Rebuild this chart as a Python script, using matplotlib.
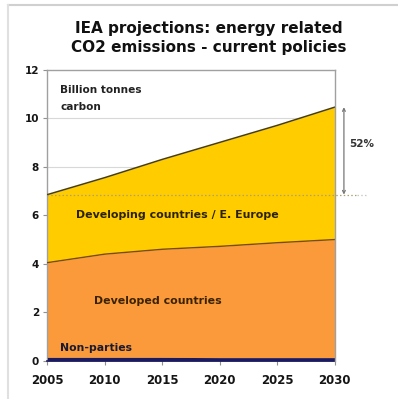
import matplotlib
matplotlib.use("Agg")
import matplotlib.pyplot as plt
from matplotlib.lines import Line2D

years = [2005, 2010, 2015, 2020, 2025, 2030]
non_parties = [0.15, 0.15, 0.15, 0.14, 0.14, 0.14]
developed_total = [4.05, 4.40, 4.60, 4.72, 4.87, 5.00]
total = [6.85, 7.55, 8.30, 9.00, 9.70, 10.45]
x_ticks = [2005, 2010, 2015, 2020, 2025, 2030]
y_ticks = [0, 2, 4, 6, 8, 10, 12]
title = "IEA projections: energy related\nCO2 emissions - current policies"
pct_label = "52%"

plt.rcParams['font.family'] = ['DejaVu Sans']
fig = plt.figure(figsize=(3.98, 3.99), dpi=100)
fig.patch.set_facecolor('white')

ax = fig.add_axes([0.119, 0.0952, 0.722, 0.7306])
ax.set_xlim(2005, 2030)
ax.set_ylim(0, 12)

yellow = '#FFCC00'
orange = '#FA9A3A'
navy = '#1C1A5E'

ax.fill_between(years, developed_total, total, color=yellow, lw=0, zorder=2)
ax.fill_between(years, non_parties, developed_total, color=orange, lw=0, zorder=2)
ax.fill_between(years, 0, non_parties, color=navy, lw=0, zorder=3)
ax.plot(years, total, color='#4a3e10', lw=1.1, zorder=4)
ax.plot(years, developed_total, color='#7a4a10', lw=1.0, zorder=4)

for g in [8, 10]:
    ax.axhline(g, color='#d8d8d8', lw=0.8, zorder=1)

# dotted reference line at 2005 total, extending beyond the axes
ax.plot([2005, 2031.9], [total[0], total[0]], color='#b0a070', lw=0.9,
        ls=(0, (1.2, 1.8)), zorder=5, clip_on=False)
ax.plot([2031.9, 2032.8], [total[0], total[0]], color='#c8c8c8', lw=0.9,
        ls=(0, (1.2, 1.8)), zorder=5, clip_on=False)

# vertical arrow showing growth
ax.annotate('', xy=(2030.8, total[0]), xytext=(2030.8, total[-1]),
            arrowprops=dict(arrowstyle='<->', color='#777777', lw=0.9,
                            mutation_scale=5, shrinkA=0, shrinkB=0),
            annotation_clip=False, zorder=6)
ax.text(2031.3, 8.95, pct_label, fontsize=7.5, fontweight='bold',
        color='#333333', ha='left', va='center', clip_on=False)

for side in ['left', 'top', 'right']:
    ax.spines[side].set_color('#a0a0a0')
    ax.spines[side].set_linewidth(1.0)
ax.spines['bottom'].set_color(navy)
ax.spines['bottom'].set_linewidth(1.2)
ax.spines['top'].set_zorder(6)
ax.spines['right'].set_zorder(6)

ax.set_xticks(x_ticks)
ax.set_yticks(y_ticks)
ax.set_xticklabels([str(v) for v in x_ticks], fontsize=8.5, fontweight='bold', color='#151515')
ax.set_yticklabels([str(v) for v in y_ticks], fontsize=7.5, fontweight='bold', color='#151515')
ax.tick_params(axis='both', direction='out', length=3, width=0.8, color='#909090', pad=3)
ax.tick_params(axis='x', pad=6)

txtc = '#2a2200'
ax.text(2006.1, 11.15, "Billion tonnes", fontsize=7.6, fontweight='bold', color='#222222', va='center')
ax.text(2006.1, 10.45, "carbon", fontsize=7.6, fontweight='bold', color='#222222', va='center')
ax.text(2016.3, 6.0, "Developing countries / E. Europe", fontsize=7.9, fontweight='bold',
        color=txtc, ha='center', va='center', zorder=7)
ax.text(2014.6, 2.45, "Developed countries", fontsize=7.9, fontweight='bold',
        color='#3a2200', ha='center', va='center', zorder=7)
ax.text(2006.1, 0.55, "Non-parties", fontsize=7.8, fontweight='bold',
        color='#1a1a30', ha='left', va='center', zorder=7)

fig.text(0.525, 0.905, title, ha='center', va='center', fontsize=11,
         fontweight='bold', color='#111111', linespacing=1.3)

# faint frame of the source slide
fig.add_artist(Line2D([8/398, 1], [1 - 5/399, 1 - 5/399], color='#d0d0d0', lw=1.5))
fig.add_artist(Line2D([8/398, 8/398], [0, 1 - 5/399], color='#e0e0e0', lw=1.5))

fig.savefig('out.png', dpi=100, facecolor='white')
